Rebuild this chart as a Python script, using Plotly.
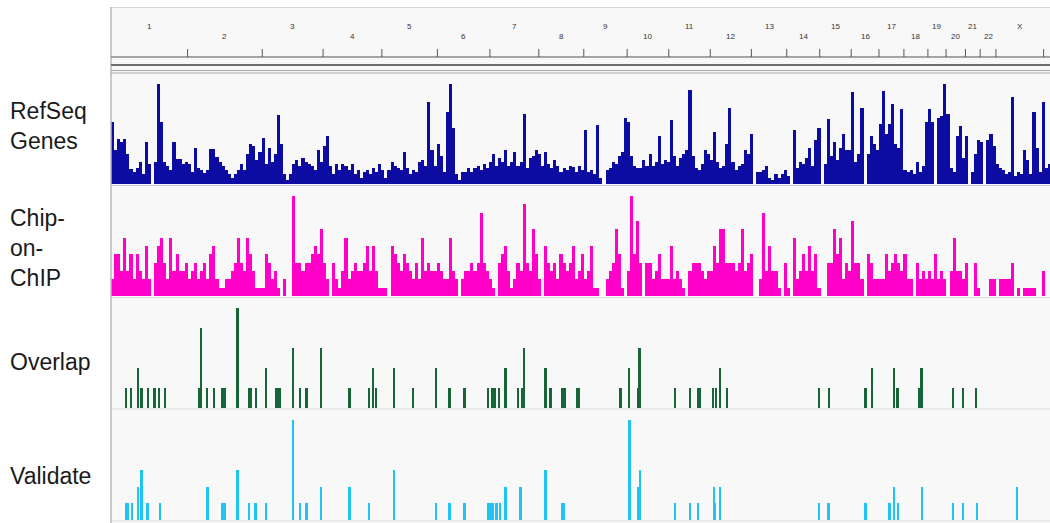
import plotly.graph_objects as go

# ---------------- data ----------------
chrom_names = ["1", "2", "3", "4", "5", "6", "7", "8", "9", "10", "11", "12",
               "13", "14", "15", "16", "17", "18", "19", "20", "21", "22", "X"]
chrom_len_mb = [249.3, 243.2, 198.0, 191.2, 180.9, 171.1, 159.1, 146.4, 141.2, 135.5,
                135.0, 133.9, 115.2, 107.3, 102.5, 90.4, 81.2, 78.1, 59.1, 63.0,
                48.1, 51.3, 155.3]

BIN_MB = 10  # genome bin size of the density tracks

refseq_density = [
    62, 34, 45, 42, 45, 30, 15, 12, 16, 22,
    10, 42, 20, 0, 22, 100, 62, 22, 18, 14,
    42, 25, 25, 20, 22, 20, 12, 36, 16, 14,
    11, 14, 35, 35, 27, 22, 18, 14, 10, 6,
    10, 14, 20, 14, 30, 40, 38, 24, 32, 46,
    20, 36, 22, 30, 69, 40, 10, 4, 10, 20,
    24, 18, 26, 22, 20, 18, 14, 34, 22, 38,
    48, 18, 10, 20, 14, 20, 18, 14, 20, 10,
    14, 6, 12, 14, 10, 16, 12, 20, 14, 6,
    14, 22, 18, 16, 14, 32, 16, 10, 14, 12,
    22, 24, 18, 82, 34, 18, 40, 28, 12, 72,
    100, 56, 10, 4, 12, 12, 16, 12, 16, 18,
    14, 20, 16, 22, 30, 18, 26, 22, 34, 18,
    22, 32, 18, 22, 70, 16, 26, 28, 34, 30,
    18, 32, 20, 16, 24, 18, 12, 16, 14, 18,
    17, 12, 18, 14, 54, 12, 14, 10, 59, 6,
    0, 14, 16, 22, 20, 28, 32, 66, 62, 28,
    18, 16, 16, 24, 18, 30, 18, 22, 48, 20,
    24, 22, 64, 28, 18, 26, 30, 34, 94, 28,
    16, 14, 20, 34, 30, 24, 52, 22, 16, 18,
    40, 76, 22, 14, 18, 20, 34, 30, 50, 0,
    12, 12, 14, 18, 6, 4, 10, 6, 10, 14,
    8, 0, 54, 16, 22, 20, 26, 36, 18, 44,
    56, 0, 20, 65, 28, 42, 24, 36, 50, 34,
    34, 92, 22, 30, 76, 0, 30, 48, 40, 34,
    60, 93, 50, 60, 80, 40, 36, 75, 14, 12,
    14, 10, 22, 12, 18, 62, 75, 62, 0, 66,
    68, 100, 70, 16, 12, 48, 58, 26, 48, 0,
    12, 30, 44, 42, 0, 44, 50, 38, 20, 16,
    14, 10, 12, 87, 8, 12, 10, 34, 24, 10,
    72, 36, 12, 82, 16, 20,
]

chip_counts = [
    2, 5, 5, 3, 7, 3, 5, 2, 5, 3,
    2, 6, 2, 0, 4, 6, 7, 4, 2, 7,
    3, 5, 3, 3, 4, 2, 3, 4, 2, 3,
    4, 2, 5, 6, 2, 1, 1, 2, 2, 3,
    4, 7, 4, 3, 7, 5, 3, 1, 1, 1,
    5, 4, 2, 3, 1, 0, 2, 0, 0, 12,
    4, 4, 3, 4, 4, 5, 6, 5, 8, 4,
    2, 0, 4, 2, 1, 3, 7, 2, 3, 4,
    3, 3, 4, 6, 3, 6, 3, 1, 1, 1,
    0, 6, 5, 4, 3, 5, 4, 3, 2, 4,
    2, 7, 3, 4, 3, 3, 4, 3, 2, 2,
    7, 3, 2, 0, 2, 3, 3, 4, 3, 4,
    10, 4, 3, 2, 1, 0, 4, 5, 6, 3,
    1, 2, 4, 3, 11, 4, 3, 8, 5, 2,
    0, 6, 4, 3, 4, 2, 5, 4, 3, 4,
    6, 2, 3, 5, 2, 3, 6, 1, 1, 0,
    0, 2, 3, 4, 8, 5, 1, 0, 3, 12,
    5, 9, 4, 0, 4, 4, 2, 3, 5, 2,
    2, 2, 6, 2, 3, 2, 1, 0, 3, 4,
    4, 4, 3, 2, 3, 3, 6, 4, 8, 8,
    4, 4, 4, 3, 4, 8, 3, 4, 5, 0,
    0, 2, 10, 3, 6, 3, 3, 1, 0, 4,
    1, 0, 7, 2, 3, 5, 3, 6, 3, 5,
    1, 0, 0, 4, 4, 8, 5, 7, 2, 4,
    3, 9, 4, 4, 2, 0, 5, 4, 2, 2,
    2, 2, 5, 3, 4, 5, 4, 3, 5, 2,
    2, 0, 4, 2, 3, 2, 3, 2, 5, 2,
    3, 2, 0, 3, 7, 3, 3, 2, 4, 0,
    0, 4, 1, 0, 0, 0, 2, 2, 0, 2,
    2, 2, 2, 4, 0, 1, 0, 1, 1, 1,
    1, 0, 0, 3, 0, 0,
]

overlap_pos_mb = [48.8, 64.1, 88.9, 99.9, 121.4, 143.2, 157.2, 175.8, 286.5, 292.0,
                  313.5, 336.3, 360.4, 365.6, 371.1, 412.4, 449.2, 454.8, 472.0, 505.5,
                  536.1, 543.6, 550.1, 593.4, 615.2, 637.0, 683.6, 778.0, 840.8, 853.8,
                  862.6, 921.2, 984.0, 1057.9, 1103.5, 1152.3, 1228.2, 1239.3, 1250.0, 1263.0,
                  1284.8, 1325.8, 1336.9, 1344.4, 1416.0, 1431.3, 1470.4, 1477.9, 1516.0, 1523.4,
                  1659.2, 1687.2, 1716.5, 1722.0, 1835.9, 1884.8, 1911.8, 1917.3, 1960.6, 1968.4,
                  1982.4, 2004.2, 2304.7, 2336.3, 2457.7, 2478.2, 2548.8, 2560.9, 2633.5, 2639.0,
                  2741.8, 2772.5, 2815.8]
overlap_count = [1, 1, 2, 1, 1, 1, 1, 1, 1, 4,
                 1, 1, 1, 1, 1, 5, 1, 1, 1, 2,
                 1, 1, 1, 3, 1, 1, 3, 1, 1, 2,
                 1, 2, 1, 2, 1, 1, 1, 1, 1, 1,
                 2, 1, 1, 3, 2, 1, 1, 1, 1, 1,
                 1, 2, 1, 3, 1, 1, 1, 1, 1, 1,
                 2, 1, 1, 1, 1, 2, 2, 1, 1, 2,
                 1, 1, 1]

validate_pos_mb = [48.8, 56.4, 67.4, 86.9, 99.9, 119.5, 159.5, 314.8, 360.4, 365.6,
                   371.1, 412.4, 449.2, 471.0, 504.6, 593.4, 615.2, 637.0, 683.6, 778.0,
                   840.8, 921.2, 1057.9, 1103.5, 1152.3, 1228.2, 1235.9, 1244.5, 1255.5, 1266.3,
                   1284.8, 1333.7, 1416.0, 1467.1, 1474.6, 1687.2, 1689.5, 1714.5, 1721.0, 1835.9,
                   1884.8, 1911.8, 1962.9, 1967.3, 1982.4, 2304.7, 2337.2, 2457.7, 2535.8, 2548.8,
                   2561.8, 2639.9, 2741.8, 2772.5, 2818.0, 2948.2]
validate_count = [1, 1, 1, 2, 3, 1, 1, 2, 1, 1,
                  1, 3, 1, 1, 1, 6, 1, 1, 2, 2,
                  1, 3, 1, 1, 1, 1, 1, 1, 1, 1,
                  2, 2, 3, 1, 1, 2, 6, 2, 3, 1,
                  1, 1, 2, 1, 2, 1, 1, 1, 1, 2,
                  1, 2, 1, 1, 1, 2]

track_labels = ["RefSeq<br>Genes", "Chip-<br>on-<br>ChIP", "Overlap", "Validate"]

# ---------------- layout helpers ----------------
# The page's default body margin is removed (see post_script), so the figure
# fills the whole 1050x523 window and page pixels map directly.
OFF = 0
PAGE_W, PAGE_H = 1050, 523
W, H = PAGE_W - OFF, PAGE_H - OFF
LEFT = 111           # page x of the data area's left edge
X_MAX_MB = 3057


def px(x):
    return (x - OFF) / W


def py(y):
    return 1 - (y - OFF) / H


# cumulative chromosome ends / midpoints
ends = []
acc = 0.0
for L in chrom_len_mb:
    acc += L
    ends.append(acc)
mids = [e - L / 2 for e, L in zip(ends, chrom_len_mb)]


def bin_x(n):
    return [i * BIN_MB + BIN_MB / 2 for i in range(n)]


fig = go.Figure()
fig.add_trace(go.Bar(x=bin_x(len(refseq_density)), y=refseq_density, width=BIN_MB,
                     marker=dict(color="#0c0ca2", line=dict(width=0)),
                     xaxis="x", yaxis="y", name="RefSeq Genes"))
fig.add_trace(go.Bar(x=bin_x(len(chip_counts)), y=chip_counts, width=BIN_MB,
                     marker=dict(color="#ff00c8", line=dict(width=0)),
                     xaxis="x", yaxis="y2", name="Chip-on-ChIP"))
fig.add_trace(go.Bar(x=overlap_pos_mb, y=overlap_count, width=6.5,
                     marker=dict(color="#16663a", line=dict(width=0)),
                     xaxis="x", yaxis="y3", name="Overlap"))
fig.add_trace(go.Bar(x=validate_pos_mb, y=validate_count, width=6.5,
                     marker=dict(color="#1ec4f2", line=dict(width=0)),
                     xaxis="x", yaxis="y4", name="Validate"))

hidden = dict(visible=False, showgrid=False, zeroline=False, fixedrange=True)
fig.update_layout(
    width=W, height=H,
    margin=dict(l=0, r=0, t=0, b=0),
    paper_bgcolor="white", plot_bgcolor="rgba(0,0,0,0)",
    showlegend=False, barmode="overlay", bargap=0,
    xaxis=dict(domain=[px(LEFT), 1], range=[0, X_MAX_MB], anchor="y", **hidden),
    yaxis=dict(domain=[py(184), py(74)], range=[0, 110], anchor="x", **hidden),
    yaxis2=dict(domain=[py(296), py(187)], range=[0, 13.08], anchor="x", **hidden),
    yaxis3=dict(domain=[py(408.3), py(299)], range=[0, 5.465], anchor="x", **hidden),
    yaxis4=dict(domain=[py(520), py(411)], range=[0, 6.54], anchor="x", **hidden),
)

shapes = []
# panel background
shapes.append(dict(type="rect", xref="paper", yref="paper", x0=px(LEFT), x1=1,
                   y0=0, y1=py(7), fillcolor="#f8f8f9", line=dict(width=0), layer="below"))
# top border
shapes.append(dict(type="line", xref="paper", yref="paper", x0=px(LEFT), x1=1,
                   y0=py(7.5), y1=py(7.5), line=dict(color="#d8d8d8", width=1)))
# left border
shapes.append(dict(type="line", xref="paper", yref="paper", x0=px(LEFT), x1=px(LEFT),
                   y0=0, y1=py(7), line=dict(color="#b8b8b8", width=1.5)))
# ruler lines
shapes.append(dict(type="line", xref="paper", yref="paper", x0=px(LEFT), x1=1,
                   y0=py(57), y1=py(57), line=dict(color="#8a8a8a", width=1.5)))
shapes.append(dict(type="line", xref="paper", yref="paper", x0=px(LEFT), x1=1,
                   y0=py(65), y1=py(65), line=dict(color="#6e6e6e", width=2)))
shapes.append(dict(type="line", xref="paper", yref="paper", x0=px(LEFT), x1=1,
                   y0=py(70.5), y1=py(70.5), line=dict(color="#a8a8a8", width=1)))
shapes.append(dict(type="line", xref="paper", yref="paper", x0=px(LEFT), x1=1,
                   y0=py(73), y1=py(73), line=dict(color="#a8a8a8", width=1)))
# track separators
for ypx, col in [(185.5, "#c4c4e4"), (297.5, "#dcdcdc"), (409, "#dcdcdc"), (521, "#dcdcdc")]:
    shapes.append(dict(type="line", xref="paper", yref="paper", x0=px(LEFT), x1=1,
                       y0=py(ypx), y1=py(ypx), line=dict(color=col, width=1)))
# chromosome boundary ticks
for e in ends:
    shapes.append(dict(type="line", xref="x", yref="paper", x0=e, x1=e,
                       y0=py(57), y1=py(49), line=dict(color="#555555", width=1)))
fig.update_layout(shapes=shapes)

ann = []
for k, (name, m) in enumerate(zip(chrom_names, mids)):
    ann.append(dict(x=m, xref="x", y=py(27 if k % 2 == 0 else 36), yref="paper",
                    text=name, showarrow=False, xanchor="center", yanchor="middle",
                    font=dict(family="Liberation Sans, Arial", size=8, color="#333333")))
label_centers = [126.5, 248, 362, 476]
for t, c in zip(track_labels, label_centers):
    ann.append(dict(x=px(8), xref="paper", y=py(c), yref="paper", text=t,
                    showarrow=False, xanchor="left", yanchor="middle", align="left",
                    font=dict(family="Liberation Sans, Arial", size=23, color="#1a1a1a")))
fig.update_layout(annotations=ann)

fig.write_html(
    "out.html",
    config={"displayModeBar": False},
    post_script="document.body.style.margin='0';document.body.style.overflow='hidden';",
)
